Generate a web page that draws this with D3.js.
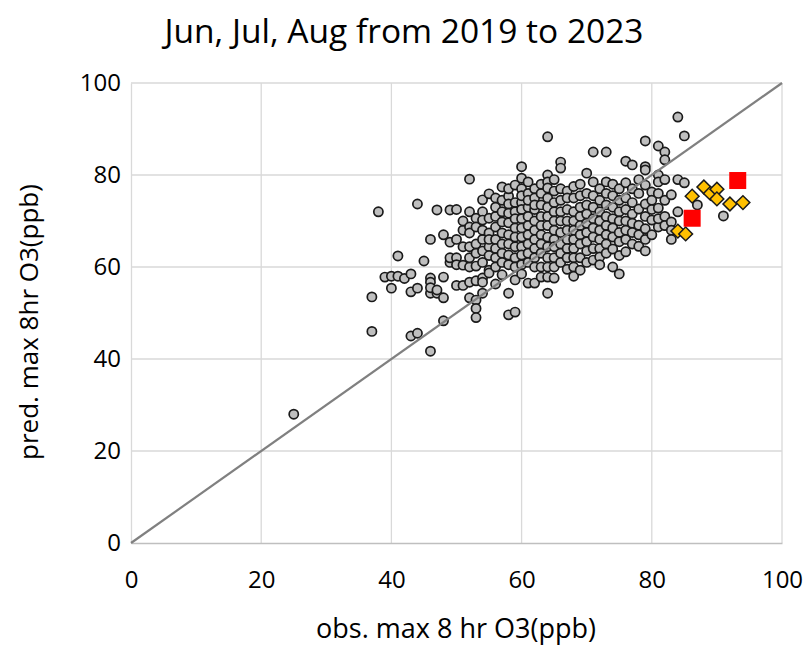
<!DOCTYPE html>
<html>
<head>
<meta charset="utf-8">
<script src="https://cdn.jsdelivr.net/npm/d3@7"></script>
<style>
  body { margin: 0; background: #fff; }
  svg text { font-family: "Open Sans", "Noto Sans", sans-serif; fill: #000; }
</style>
</head>
<body>
<svg id="chart" width="809" height="645"></svg>
<script>
// observed (x) vs predicted (y) daily max 8 hr O3, grouped by observed value
var greyObs = [25, 37, 38, 39, 40, 41, 42, 43, 44, 45, 46, 47, 48, 49,
    50, 51, 52, 53, 54, 55, 56, 57, 58, 59, 60, 61, 62, 63, 64, 65, 66, 67, 68, 69,
    70, 71, 72, 73, 74, 75, 76, 77, 78, 79, 80, 81, 82, 83, 84, 85, 87, 91];
var greyPred = [
    [28],
    [53.5, 46],
    [72],
    [57.8],
    [55.4, 58],
    [62.4, 58],
    [57.5],
    [58.5, 54.6, 45],
    [73.7, 55.4, 45.6],
    [61.3],
    [66, 57.6, 56.7, 54.3, 55.5, 41.7],
    [72.4, 54.3, 55],
    [67, 57.8, 53.3, 48.3],
    [72.4, 65.4, 61, 62],
    [72.5, 66, 62, 60.5, 56],
    [64.4, 60.4, 56, 68, 70],
    [79.1, 72, 68.7, 67.4, 64.4, 60, 56.7, 53.3, 62],
    [70.6, 68.7, 65, 60.2, 52.8, 51, 49, 63, 57],
    [74.6, 72, 70.2, 66, 61, 57.6, 56.7, 54.3, 63.5, 68],
    [75.9, 70.6, 67.4, 64.4, 62.5, 59.3, 58.7, 66],
    [75, 71, 68.7, 66, 64, 62, 56.3, 60, 73],
    [77.4, 69.8, 67.4, 65, 63, 58.3, 61, 72, 74.5],
    [75.4, 73.7, 71.7, 69.6, 67, 65, 62.6, 60.5, 54.3, 49.6, 77],
    [77.8, 74, 72, 70.5, 68.5, 66.5, 64.4, 62, 57.2, 50.2, 60],
    [81.8, 79.3, 77, 74, 72.5, 70.5, 68.5, 66.5, 64.4, 62.6, 60.5, 58.5, 75.5],
    [78.5, 76, 73, 71, 69, 67, 65, 63, 61, 56.5, 74.5],
    [77, 75, 72.5, 70, 68, 66, 64, 62, 60, 56.5, 73.5],
    [76, 73.5, 71, 69, 67, 65, 63, 60, 57.8, 78],
    [88.3, 80, 78.5, 77.2, 75, 73, 71, 69, 66.5, 64.4, 62, 57.8, 54.3, 60],
    [79, 76.5, 74, 72, 70, 68, 66, 64.4, 62, 57.6, 60],
    [82.8, 81.5, 77, 74.5, 72, 70, 67.5, 65, 63, 61],
    [76.5, 75, 72.5, 70, 68, 66, 64, 62, 59.5],
    [77.5, 75, 72, 70, 68, 66, 64, 62, 60, 58],
    [78, 75.5, 73, 71, 69, 67, 65, 62, 59.3],
    [80.4, 76, 73.5, 71.5, 69.5, 67.5, 65.5, 63.5, 61],
    [85, 78.5, 75.5, 73, 70.5, 68.5, 66.5, 64, 61.5],
    [77, 74.5, 72, 70, 68, 66, 64, 62.2, 60.5],
    [85, 78.5, 76, 73.5, 71, 69, 67, 65, 63],
    [78, 75.5, 73, 70.5, 68.5, 66.5, 63.9, 60],
    [77, 74.5, 72, 70, 67.5, 65.5, 62.5, 58.5],
    [83, 78.3, 75, 72.5, 70, 68, 66, 63.3],
    [82.2, 77, 74, 71.5, 69.5, 67.5, 65],
    [79, 76, 72.6, 69.1, 67, 64.5],
    [87.4, 81.8, 81.1, 77.8, 73.7, 71, 68.3, 66, 63.5],
    [76.3, 74.5, 70.2, 67, 72.5],
    [86.3, 80, 78.5, 76, 72.8, 68.7, 70.5],
    [85, 83.3, 79, 74.5, 71, 69],
    [75.7, 69.8, 68, 66],
    [92.6, 79, 72],
    [88.5, 78.3],
    [73.5],
    [71.1]
];
var diamondObs = [86.2, 88, 89, 90, 90, 92, 94, 84, 85.2];
var diamondPred = [75.4, 77.4, 76, 76.9, 74.8, 73.7, 74, 67.8, 67.2];
var squareObs = [93.2, 86.2];
var squarePred = [78.8, 70.6];
var ticks = [0, 20, 40, 60, 80, 100];

var svg = d3.select('#chart');
var plotLeft = 131, plotRight = 782, plotTop = 83, plotBottom = 543;

var x = d3.scaleLinear().domain([0, 100]).range([plotLeft, plotRight]);
var y = d3.scaleLinear().domain([0, 100]).range([plotBottom, plotTop]);

// gridlines
var grid = svg.append('g').attr('class', 'grid');
grid.selectAll('line.v')
    .data(ticks.slice(1))
    .enter()
    .append('line')
    .attr('class', 'v')
    .attr('x1', function (d) { return x(d); })
    .attr('x2', function (d) { return x(d); })
    .attr('y1', plotTop)
    .attr('y2', plotBottom)
    .attr('stroke', '#d9d9d9')
    .attr('stroke-width', 1.3);
grid.selectAll('line.h')
    .data(ticks.slice(1))
    .enter()
    .append('line')
    .attr('class', 'h')
    .attr('x1', plotLeft)
    .attr('x2', plotRight)
    .attr('y1', function (d) { return y(d); })
    .attr('y2', function (d) { return y(d); })
    .attr('stroke', '#d9d9d9')
    .attr('stroke-width', 1.3);

// axes
var xAxis = svg.append('g')
    .attr('transform', 'translate(0,' + plotBottom + ')')
    .call(d3.axisBottom(x).tickValues(ticks).tickSize(0).tickPadding(28));
xAxis.select('.domain').attr('stroke', '#bfbfbf').attr('stroke-width', 1.3);
var yAxis = svg.append('g')
    .attr('transform', 'translate(' + plotLeft + ',0)')
    .call(d3.axisLeft(y).tickValues(ticks).tickSize(0).tickPadding(10));
yAxis.select('.domain').attr('stroke', '#d9d9d9').attr('stroke-width', 1.3);
svg.selectAll('.tick text')
    .style('font-size', '24px')
    .style('font-family', '"Open Sans", sans-serif')
    .attr('fill', '#000');

// grey points
var points = [];
greyObs.forEach(function (o, i) {
    greyPred[i].forEach(function (p) { points.push([o, p]); });
});
svg.append('g').selectAll('circle')
    .data(points)
    .enter()
    .append('circle')
    .attr('cx', function (d) { return x(d[0]); })
    .attr('cy', function (d) { return y(d[1]); })
    .attr('r', 4.6)
    .attr('fill', '#bfbfbf')
    .attr('stroke', '#1a1a1a')
    .attr('stroke-width', 1.7);

// 1:1 line
var line = d3.line()
    .x(function (d) { return x(d); })
    .y(function (d) { return y(d); });
svg.append('path')
    .attr('d', line([0, 100]))
    .attr('stroke', '#808080')
    .attr('stroke-width', 2.2)
    .attr('fill', 'none');

// yellow diamonds
svg.append('g').selectAll('path')
    .data(diamondObs)
    .enter()
    .append('path')
    .attr('d', d3.symbol().type(d3.symbolSquare).size(95))
    .attr('transform', function (d, i) {
        return 'translate(' + x(d) + ',' + y(diamondPred[i]) + ') rotate(45)';
    })
    .attr('fill', '#ffc000')
    .attr('stroke', '#1a1a1a')
    .attr('stroke-width', 1.5);

// red squares
svg.append('g').selectAll('rect')
    .data(squareObs)
    .enter()
    .append('rect')
    .attr('x', function (d) { return x(d) - 8.5; })
    .attr('y', function (d, i) { return y(squarePred[i]) - 8.5; })
    .attr('width', 17)
    .attr('height', 17)
    .attr('fill', '#ff0000');

// titles
svg.append('text')
    .attr('x', 404)
    .attr('y', 43)
    .attr('text-anchor', 'middle')
    .style('font-size', '33.5px')
    .text('Jun, Jul, Aug from 2019 to 2023');
svg.append('text')
    .attr('x', 456)
    .attr('y', 638)
    .attr('text-anchor', 'middle')
    .style('font-size', '27px')
    .text('obs. max 8 hr O3(ppb)');
svg.append('text')
    .attr('transform', 'translate(38,322) rotate(-90)')
    .attr('text-anchor', 'middle')
    .style('font-size', '26px')
    .text('pred. max 8hr O3(ppb)');
</script>
</body>
</html>
